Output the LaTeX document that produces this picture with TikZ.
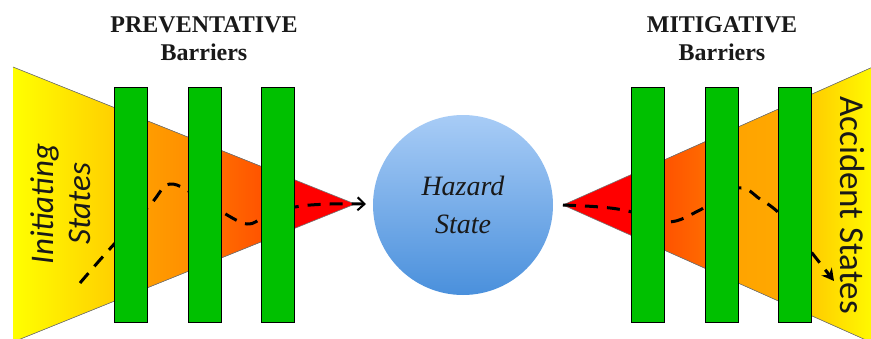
\documentclass[tikz,border=0pt]{standalone}
\usepackage{fontspec}
\setmainfont{Liberation Serif}
\newfontfamily\sidefont{Carlito}
\usetikzlibrary{arrows.meta,positioning}
\definecolor{bwgreen}{HTML}{00C000}
\definecolor{bwyellow}{HTML}{FFFF00}
\definecolor{bwgold}{HTML}{FFC800}
\definecolor{bworangeA}{HTML}{FFA200}
\definecolor{bworangeB}{HTML}{FF8A00}
\definecolor{bwrustA}{HTML}{FF7400}
\definecolor{bwrustB}{HTML}{FF4A00}
\definecolor{bwred}{HTML}{FF0000}
\definecolor{bwskyA}{HTML}{A8CCF6}
\definecolor{bwskyB}{HTML}{4A90DC}

\begin{document}
\begin{tikzpicture}[x=1pt, y=-1pt,
  barrier/.style={draw=black, line width=0.9pt, fill=bwgreen, inner sep=0pt,
                  minimum width=33pt, minimum height=235pt},
  funnel/.style={draw=black!55, line width=0.6pt},
  head/.style={font=\fontsize{24}{28}\selectfont\bfseries, align=center, text=black!90},
  sidelbl/.style={font=\fontsize{33}{37}\selectfont\sidefont, align=center, text=black!90},
  trail/.style={draw=black, line width=3pt, dash pattern=on 13pt off 9pt},
]
\useasboundingbox (0,0) rectangle (871,338);

% Trichter links (Ursachen)
\begin{scope}
  \clip (13,67) -- (355,204) -- (13,342) -- cycle;
  \fill[left color=bwyellow, right color=bwgold]     (13,60)  rectangle (131,350);
  \fill[left color=bworangeA, right color=bworangeB] (130,60) rectangle (205,350);
  \fill[left color=bwrustA, right color=bwrustB]     (204,60) rectangle (279,350);
  \fill[bwred]                                       (278,60) rectangle (360,350);
\end{scope}
\draw[funnel] (13,67) -- (355,204) -- (13,342);

% Trichter rechts (Folgen)
\begin{scope}
  \clip (875,66) -- (563,205) -- (875,344) -- cycle;
  \fill[bwred]                                       (560,60) rectangle (649,350);
  \fill[left color=bwrustB, right color=bwrustA]     (648,60) rectangle (723,350);
  \fill[left color=bworangeA, right color=bworangeA!80!bwgold] (722,60) rectangle (796,350);
  \fill[left color=bwgold!80!bworangeA, right color=bwyellow]  (795,60) rectangle (880,350);
\end{scope}
\draw[funnel] (875,66) -- (563,205) -- (875,344);

% Gefahrenzustand
\node[circle, minimum size=180pt, inner sep=0pt, top color=bwskyA, bottom color=bwskyB,
      font=\fontsize{28}{38}\selectfont\itshape, align=center, text=black!90]
  (hazard) at (463,205) {Hazard\\State};

% Ereignispfade
\draw[trail, -{Straight Barb[length=7pt, width=13pt, line width=2pt]}]
  plot[smooth, tension=0.6] coordinates {(80,283) (107,252) (150,205) (170,184) (200,198)
    (222,212) (247,224) (265,217) (295,207) (330,204) (366,204)};
\draw[trail, -{Stealth[length=12pt, width=13pt]}]
  plot[smooth, tension=0.6] coordinates {(563,205) (600,207) (628,211) (668,222) (700,210)
    (738,188) (760,199) (782,216) (812,253) (834,281)};

% Barrieren
\foreach \i/\x in {1/130.5, 2/204.5, 3/278} {
  \node[barrier] (pb\i) at (\x,204.5) {};
}
\foreach \i/\x in {1/647.5, 2/721.5, 3/794.5} {
  \node[barrier] (mb\i) at (\x,204.5) {};
}

% Beschriftungen
\node[head] (prevhead) at (204,39) {PREVENTATIVE\\Barriers};
\node[head] (mithead)  at (722,39) {MITIGATIVE\\Barriers};
\node[sidelbl, rotate=90, font=\fontsize{33}{37}\selectfont\sidefont\itshape]
  (initlbl) at (61,204) {Initiating\\States};
\node[sidelbl, rotate=-90, font=\fontsize{35}{37}\selectfont\sidefont]
  (acclbl) at (853,205) {Accident States};

\end{tikzpicture}
\end{document}
